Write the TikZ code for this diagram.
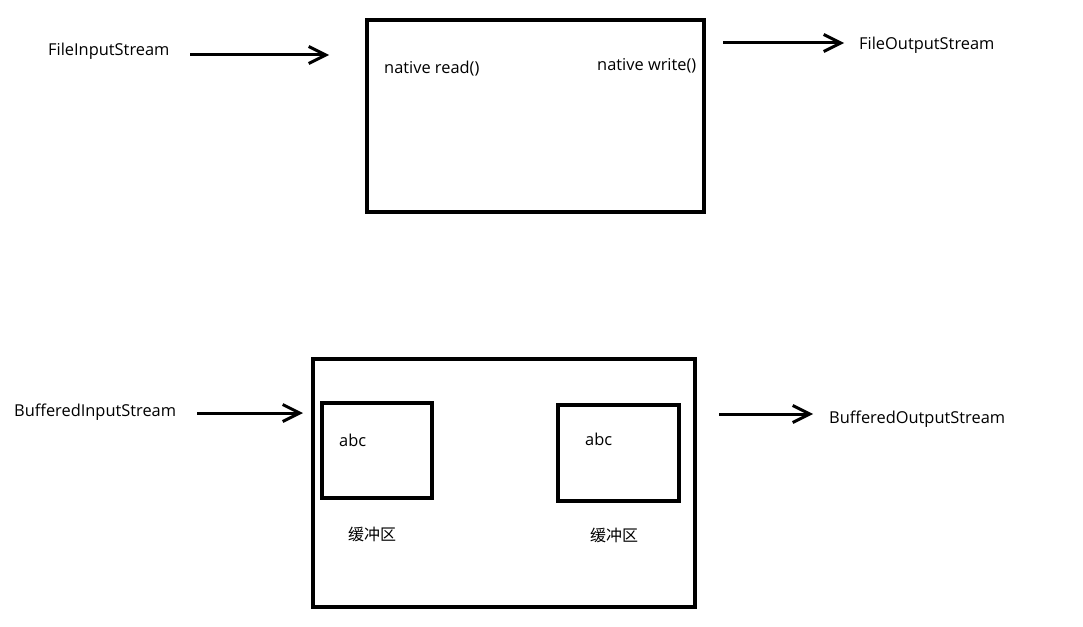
\documentclass[tikz,border=0pt]{standalone}
\usepackage{fontspec}
\setmainfont{Open Sans}
\newfontfamily\cjk{Noto Sans CJK SC}
\usetikzlibrary{arrows.meta}
\tikzset{
  box/.style={draw, line width=3.2pt},
  lbl/.style={inner sep=0pt, font=\fontsize{16.4}{18}\selectfont},
  cjklbl/.style={inner sep=0pt, font=\cjk\fontsize{16}{18}\selectfont},
  flow/.style={line width=3pt, -{Straight Barb[length=17pt,width=17pt,line width=3pt]}}
}
\begin{document}
\begin{tikzpicture}[x=1pt, y=-1pt]
      \useasboundingbox (0,0) rectangle (1083,626);
      % top: file streams
      \draw[box] (367,20) rectangle (704,212);
      \draw
        (48,51) node[lbl, anchor=west] (fin){FileInputStream}
        (384,69) node[lbl, anchor=west] (read){native read()}
        (597,66) node[lbl, anchor=west] (write){native write()}
        (859,45) node[lbl, anchor=west] (fout){FileOutputStream};
      \coordinate (a1) at (190,55);
      \coordinate (a2) at (329,55);
      \coordinate (a3) at (723,43);
      \coordinate (a4) at (844,43);
      % bottom: buffered streams
      \draw[box] (313,359) rectangle (695,607);
      \draw[box] (322,403) rectangle (432,498);
      \draw[box] (558,405) rectangle (679,501);
      \draw
        (14,412) node[lbl, anchor=west] (bin){BufferedInputStream}
        (339,440) node[lbl, anchor=west] (abc1){abc}
        (585,439) node[lbl, anchor=west] (abc2){abc}
        (372,534) node[cjklbl] (buf1){缓冲区}
        (614,535) node[cjklbl] (buf2){缓冲区}
        (829,419) node[lbl, anchor=west] (bout){BufferedOutputStream};
      \coordinate (b1) at (197,413);
      \coordinate (b2) at (303,413);
      \coordinate (b3) at (719,414);
      \coordinate (b4) at (813,414);
      \begin{scope}[flow]
        \draw (a1) to (a2);
        \draw (a3) to (a4);
        \draw (b1) to (b2);
        \draw (b3) to (b4);
      \end{scope}
    \end{tikzpicture}
\end{document}
